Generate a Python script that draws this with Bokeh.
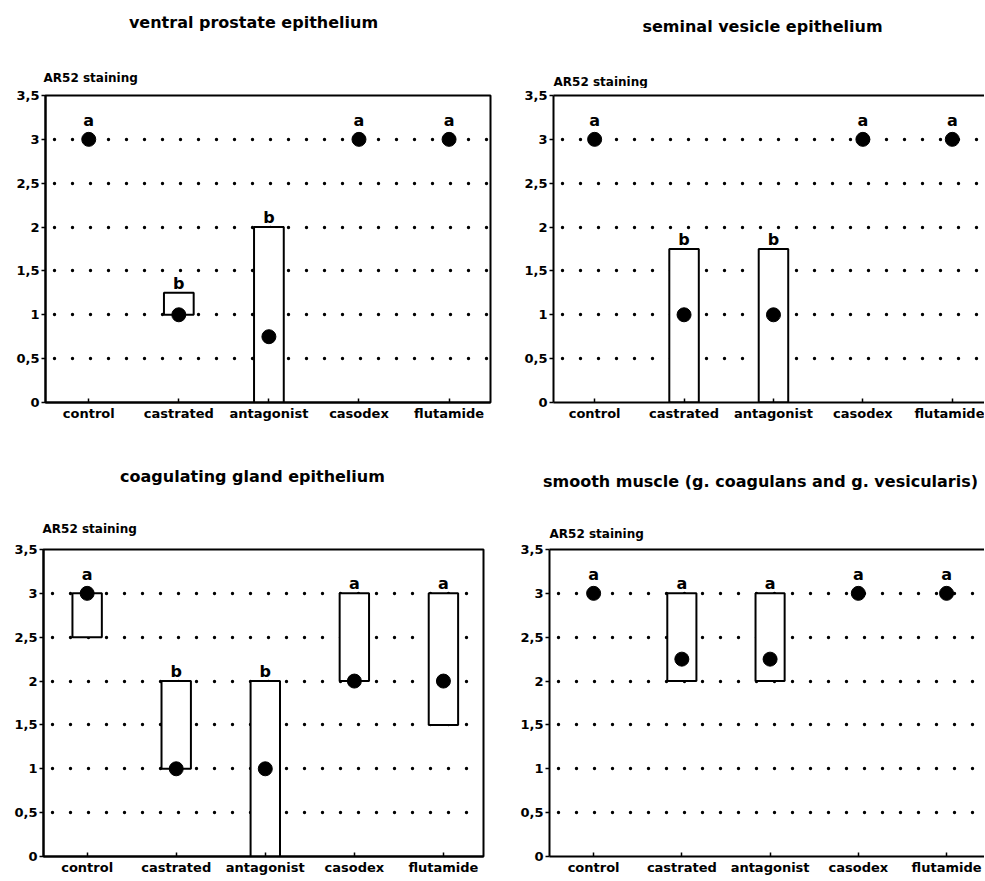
from bokeh.plotting import figure
from bokeh.layouts import column, row
from bokeh.models import Range1d, FixedTicker, LinearAxis, LabelSet, ColumnDataSource, Label
from bokeh.core.properties import value
from bokeh.embed import file_html
from bokeh.resources import INLINE

categories = ["control", "castrated", "antagonist", "casodex", "flutamide"]
y_ticks = [0, 0.5, 1, 1.5, 2, 2.5, 3, 3.5]
y_tick_labels = ["0", "0,5", "1", "1,5", "2", "2,5", "3", "3,5"]
grid_levels = [0.5, 1, 1.5, 2, 2.5, 3]
y_title = "AR52 staining"

titles = ["ventral prostate epithelium",
          "seminal vesicle epithelium",
          "coagulating gland epithelium",
          "smooth muscle (g. coagulans and g. vesicularis)"]

# ventral prostate epithelium
vp_median = [3, 1, 0.75, 3, 3]
vp_low = [3, 1, 0, 3, 3]
vp_high = [3, 1.25, 2, 3, 3]
vp_letters = ["a", "b", "b", "a", "a"]

# seminal vesicle epithelium
sv_median = [3, 1, 1, 3, 3]
sv_low = [3, 0, 0, 3, 3]
sv_high = [3, 1.75, 1.75, 3, 3]
sv_letters = ["a", "b", "b", "a", "a"]

# coagulating gland epithelium
cg_median = [3, 1, 1, 2, 2]
cg_low = [2.5, 1, 0, 2, 1.5]
cg_high = [3, 2, 2, 3, 3]
cg_letters = ["a", "b", "b", "a", "a"]

# smooth muscle
sm_median = [3, 2.25, 2.25, 3, 3]
sm_low = [3, 2, 2, 3, 3]
sm_high = [3, 3, 3, 3, 3]
sm_letters = ["a", "a", "a", "a", "a"]

FONT = "DejaVu Sans"


def style_axis(ax, font_size):
    ax.minor_tick_line_color = None
    ax.major_tick_line_width = 1.5
    ax.axis_line_width = 2
    ax.axis_line_color = "black"
    ax.major_tick_line_color = "black"
    ax.major_label_text_font = FONT
    ax.major_label_text_font_style = "bold"
    ax.major_label_text_font_size = font_size
    ax.major_label_text_color = "black"


def make_header(width, height, title, title_x, title_y, lab_x, lab_y):
    h = figure(width=width, height=height, x_range=Range1d(0, width), y_range=Range1d(0, height),
               x_axis_type=None, y_axis_type=None, output_backend="svg", toolbar_location=None,
               min_border=0, min_border_left=0, min_border_right=0, min_border_top=0,
               min_border_bottom=0, outline_line_color=None,
               background_fill_color="white", border_fill_color="white")
    h.add_layout(Label(x=title_x, y=title_y, text=title, text_align="center",
                       text_baseline="middle", text_font=FONT, text_font_style="bold",
                       text_font_size="16px", text_color="black"))
    h.add_layout(Label(x=lab_x, y=lab_y, text=y_title, text_align="left",
                       text_baseline="middle", text_font=FONT, text_font_style="bold",
                       text_font_size="12px", text_color="black"))
    return h


def make_panel(med, low, high, letters, xr, width, height, borders, clipped):
    bl, br, bt, bb = borders
    p = figure(width=width, height=height, x_range=Range1d(*xr), y_range=Range1d(0, 3.5),
               output_backend="svg", toolbar_location=None,
               min_border_left=bl, min_border_right=br, min_border_top=bt, min_border_bottom=bb,
               background_fill_color="white", border_fill_color="white")
    p.xgrid.visible = False
    p.ygrid.ticker = FixedTicker(ticks=grid_levels)
    p.ygrid.grid_line_color = "black"
    p.ygrid.grid_line_width = 3.4
    p.ygrid.grid_line_cap = "round"
    p.ygrid.grid_line_dash = "0 18"
    p.ygrid.grid_line_dash_offset = -9

    yax = p.left[0]
    yax.ticker = FixedTicker(ticks=y_ticks)
    yax.major_label_overrides = dict(zip(y_ticks, y_tick_labels))
    yax.major_tick_in = 0
    yax.major_tick_out = 4
    yax.major_label_standoff = 2
    style_axis(yax, "13px")

    xs = list(range(len(categories)))
    xax = p.below[0]
    xax.ticker = FixedTicker(ticks=xs)
    xax.major_label_overrides = dict(zip(xs, categories))
    xax.major_tick_in = 4
    xax.major_tick_out = 0
    xax.major_label_standoff = 3
    style_axis(xax, "13px")

    if clipped:
        p.outline_line_color = None
        top = LinearAxis(ticker=FixedTicker(ticks=[]), major_label_text_font_size="0px",
                         major_tick_in=0, major_tick_out=0, major_label_standoff=0,
                         axis_line_width=2, axis_line_color="black",
                         minor_tick_line_color=None)
        p.add_layout(top, "above")
    else:
        p.outline_line_color = "black"
        p.outline_line_width = 2
        p.outline_line_alpha = 1

    bx = [x for x, lo, hi in zip(xs, low, high) if hi > lo]
    blo = [lo for lo, hi in zip(low, high) if hi > lo]
    bhi = [hi for lo, hi in zip(low, high) if hi > lo]
    p.vbar(x=bx, width=0.33, bottom=blo, top=bhi, fill_color="white",
           line_color="black", line_width=2)
    p.scatter(x=xs, y=med, size=14, color="black")

    anchor = [max(h, m) for h, m in zip(high, med)]
    offs = [4 if h > m else 13 for h, m in zip(high, med)]
    src = ColumnDataSource(dict(x=xs, y=anchor, t=letters, off=offs))
    p.add_layout(LabelSet(x="x", y="y", text="t", source=src, y_offset="off",
                          text_align="center", text_baseline="alphabetic",
                          text_font=value(FONT), text_font_style="bold",
                          text_font_size="16px", text_color="black"))
    return p


W1, W2 = 513, 471
HH1, H1 = 88, 352
HH2, H2 = 103, 337

h1 = make_header(W1, HH1, titles[0], 253, 66, 43, 11)
h2 = make_header(W2, HH1, titles[1], 249, 62, 40, 7)
h3 = make_header(W1, HH2, titles[2], 252, 67, 42, 15)
h4 = make_header(W2, HH2, titles[3], 247, 62, 36, 10)

p1 = make_panel(vp_median, vp_low, vp_high, vp_letters, (-0.48, 4.46), W1, H1,
                (45, 23, 7, 38), False)
p2 = make_panel(sv_median, sv_low, sv_high, sv_letters, (-0.46, 4.36), W2, H1,
                (40, 0, 7, 38), True)
p3 = make_panel(cg_median, cg_low, cg_high, cg_letters, (-0.49, 4.45), W1, H2,
                (43, 30, 6, 24), False)
p4 = make_panel(sm_median, sm_low, sm_high, sm_letters, (-0.5, 4.43), W2, H2,
                (36, 0, 6, 24), True)

layout = column(row(h1, h2), row(p1, p2), row(h3, h4), row(p3, p4))
open("out.html", "w").write(file_html(layout, INLINE))
